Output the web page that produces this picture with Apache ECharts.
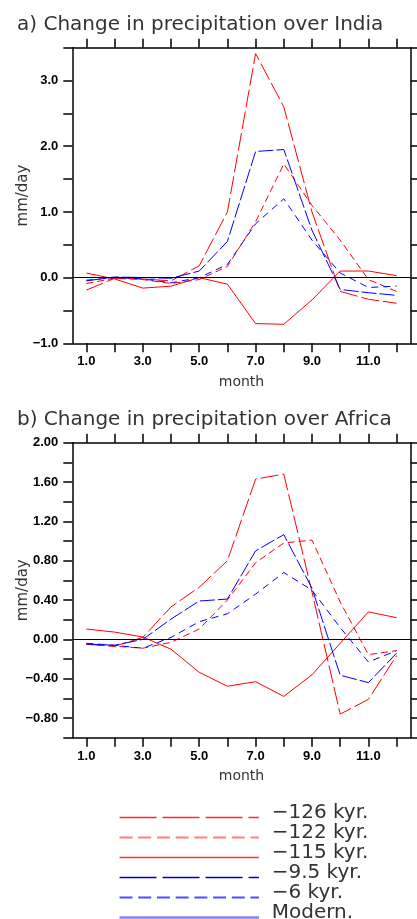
<!DOCTYPE html>
<html>
<head>
<meta charset="utf-8">
<script src="https://cdn.jsdelivr.net/npm/echarts@6/dist/echarts.min.js"></script>
<style>
html,body{margin:0;padding:0;background:#fff;}
#c{width:417px;height:919px;}
</style>
</head>
<body>
<div id="c"></div>
<script>
// ---- data ----
const months = [1, 2, 3, 4, 5, 6, 7, 8, 9, 10, 11, 12];
const monthLabels = months.map(m => m.toFixed(1));

const seriesNames = ['−126 kyr.', '−122 kyr.', '−115 kyr.', '−9.5 kyr.', '−6 kyr.', 'Modern.'];

// India (mm/day change)
const india126 = [-0.19, -0.01, -0.02, -0.05, 0.18, 1.00, 3.41, 2.60, 1.00, -0.21, -0.33, -0.39];
const india122 = [-0.09, -0.01, -0.03, -0.09, -0.03, 0.17, 0.85, 1.73, 1.10, 0.57, -0.03, -0.21];
const india115 = [0.07, -0.02, -0.16, -0.13, 0.00, -0.10, -0.70, -0.71, -0.34, 0.10, 0.10, 0.03];
const india95  = [-0.05, 0.01, 0.00, -0.01, 0.10, 0.55, 1.92, 1.95, 0.72, -0.18, -0.23, -0.27];
const india6   = [-0.04, 0.00, -0.02, -0.08, 0.00, 0.20, 0.82, 1.20, 0.57, 0.07, -0.15, -0.13];
const indiaModern = [0, 0, 0, 0, 0, 0, 0, 0, 0, 0, 0, 0];

// Africa (mm/day change)
const africa126 = [-0.05, -0.07, 0.02, 0.33, 0.53, 0.80, 1.63, 1.68, 0.48, -0.76, -0.61, -0.165];
const africa122 = [-0.05, -0.07, -0.09, -0.03, 0.105, 0.40, 0.78, 0.98, 1.01, 0.38, -0.155, -0.115];
const africa115 = [0.105, 0.074, 0.024, -0.10, -0.335, -0.477, -0.43, -0.58, -0.36, -0.04, 0.28, 0.22];
const africa95  = [-0.047, -0.06, 0.00, 0.206, 0.39, 0.41, 0.90, 1.065, 0.52, -0.365, -0.44, -0.14];
const africa6   = [-0.04, -0.06, -0.09, 0.02, 0.18, 0.26, 0.46, 0.68, 0.50, 0.12, -0.23, -0.115];
const africaModern = [0, 0, 0, 0, 0, 0, 0, 0, 0, 0, 0, 0];

const titles = ['a) Change in precipitation over India', 'b) Change in precipitation over Africa'];
const yUnit = 'mm/day';
const xName = 'month';

// ---- styling ----
const styles = [
  {color: '#ff0000', type: [18, 4], leg: {color: '#ff2a2a', width: 1.6, type: [37, 6]}},
  {color: '#ff0000', type: [7, 4],  leg: {color: '#ff8080', width: 2,   type: [13, 5.7]}},
  {color: '#ff0000', type: 'solid', leg: {color: '#ff3333', width: 1.6, type: 'solid'}},
  {color: '#0000ff', type: [15, 3], leg: {color: '#0000cc', width: 1.6, type: [37, 6]}},
  {color: '#0000ff', type: [7, 5],  leg: {color: '#4d4dff', width: 2,   type: [13, 5.7]}},
  {color: '#0000ff', type: 'solid', leg: {color: '#8080ff', width: 2.5, type: 'solid'}}
];

const labelFont = {fontFamily: 'Liberation Sans', fontWeight: 'bold', fontSize: 13, color: '#000'};
const nameFont = {fontFamily: 'DejaVu Sans', fontSize: 14, color: '#333'};
const clear = 'rgba(0,0,0,0)';

function signed(v, r, d) {
  return (r < 0 ? '−' : '') + Math.abs(v).toFixed(d);
}
const fmtIndia = v => { const r = Math.round(v * 10); return r % 10 === 0 ? signed(v, r, 1) : ''; };
const fmtAfrica = v => { const r = Math.round(v * 10); return r % 4 === 0 ? signed(v, r, 2) : ''; };

function xAx(gi, pos) {
  const bottom = pos === 'bottom';
  return {
    type: 'category', gridIndex: gi, position: pos, data: monthLabels, boundaryGap: true,
    axisLine: {show: true, onZero: false, lineStyle: {color: '#000', width: 1.5}},
    axisTick: {show: true, alignWithLabel: true, interval: 0, length: 9, inside: false, lineStyle: {color: '#000', width: 1.5}},
    axisLabel: bottom ? Object.assign({show: true, interval: 1, margin: 12}, labelFont) : {show: false},
    splitLine: {show: false},
    name: bottom ? xName : '', nameLocation: 'middle', nameGap: 32, nameMoveOverlap: false,
    nameTextStyle: nameFont
  };
}
function yAx(gi, pos, min, max, interval, fmt) {
  const left = pos === 'left';
  return {
    type: 'value', gridIndex: gi, position: pos, min: min, max: max, interval: interval,
    axisLine: {show: true, onZero: false, lineStyle: {color: '#000', width: 1.5}},
    axisTick: {show: true, inside: false, length: 9, lineStyle: {color: '#000', width: 1.5}},
    axisLabel: left ? Object.assign({show: true, margin: 14, formatter: fmt}, labelFont) : {show: false},
    splitLine: {show: false},
    name: left ? yUnit : '', nameLocation: 'middle', nameRotate: 90, nameGap: 42, nameMoveOverlap: false,
    nameTextStyle: Object.assign({}, nameFont, {fontSize: 15})
  };
}

const indiaSets = [india126, india122, india115, india95, india6, indiaModern];
const africaSets = [africa126, africa122, africa115, africa95, africa6, africaModern];

const series = [];
[indiaSets, africaSets].forEach((sets, gi) => {
  sets.forEach((d, i) => {
    const modern = i === 5;
    const s = {
      name: seriesNames[i], type: 'line', xAxisIndex: gi * 2, yAxisIndex: gi * 2,
      data: d, symbol: 'none', showSymbol: false, silent: true, animation: false,
      lineStyle: {color: styles[i].color, width: 1, type: styles[i].type, opacity: modern ? 0 : 1},
      itemStyle: {color: styles[i].color},
      z: 3
    };
    if (modern) {
      s.markLine = {
        silent: true, symbol: ['none', 'none'], label: {show: false}, animation: false,
        lineStyle: {color: '#000', width: 1.2, type: 'solid', opacity: 1},
        data: [{yAxis: 0}]
      };
      s.z = 4;
    }
    series.push(s);
  });
});

// legend: line samples (text blank) + text column (icons hidden)
const legendLines = {
  orient: 'vertical', left: 118.3, top: 807.5, height: 200, padding: 0,
  itemWidth: 139.4, itemHeight: 2, itemGap: 0, selectedMode: false,
  formatter: () => ' ',
  textStyle: {fontFamily: 'DejaVu Sans', fontSize: 20, lineHeight: 19.7},
  data: seriesNames.map((n, i) => ({
    name: n,
    itemStyle: {color: clear, borderColor: clear, borderWidth: 0},
    lineStyle: {color: styles[i].leg.color, width: styles[i].leg.width, type: styles[i].leg.type, opacity: 1}
  }))
};
const legendText = {
  orient: 'vertical', left: 266.7, top: 802.5, height: 200, padding: 0,
  itemWidth: 0, itemHeight: 0, itemGap: 0, selectedMode: false,
  textStyle: {fontFamily: 'DejaVu Sans', fontSize: 20, lineHeight: 19.7, color: '#333'},
  data: seriesNames.map(n => ({
    name: n,
    itemStyle: {color: clear, borderColor: clear, borderWidth: 0},
    lineStyle: {color: clear, width: 0, opacity: 0}
  }))
};

const option = {
  animation: false,
  backgroundColor: '#fff',
  title: [
    {text: titles[0], left: 12, top: 10, textStyle: {fontFamily: 'DejaVu Sans', fontSize: 20, fontWeight: 'normal', color: '#333'}},
    {text: titles[1], left: 12, top: 405, textStyle: {fontFamily: 'DejaVu Sans', fontSize: 20, fontWeight: 'normal', color: '#333'}}
  ],
  grid: [
    {left: 72.3, top: 47.7, width: 338.4, height: 295.6, outerBoundsMode: 'none', containLabel: false},
    {left: 72.3, top: 442.7, width: 338.4, height: 295, outerBoundsMode: 'none', containLabel: false}
  ],
  xAxis: [xAx(0, 'bottom'), xAx(0, 'top'), xAx(1, 'bottom'), xAx(1, 'top')],
  yAxis: [
    yAx(0, 'left', -1, 3.5, 0.5, fmtIndia), yAx(0, 'right', -1, 3.5, 0.5, null),
    yAx(1, 'left', -1, 2, 0.2, fmtAfrica), yAx(1, 'right', -1, 2, 0.2, null)
  ],
  legend: [legendLines, legendText],
  series: series
};

const chart = echarts.init(document.getElementById('c'), null, {renderer: 'canvas'});
chart.setOption(option);
</script>
</body>
</html>
